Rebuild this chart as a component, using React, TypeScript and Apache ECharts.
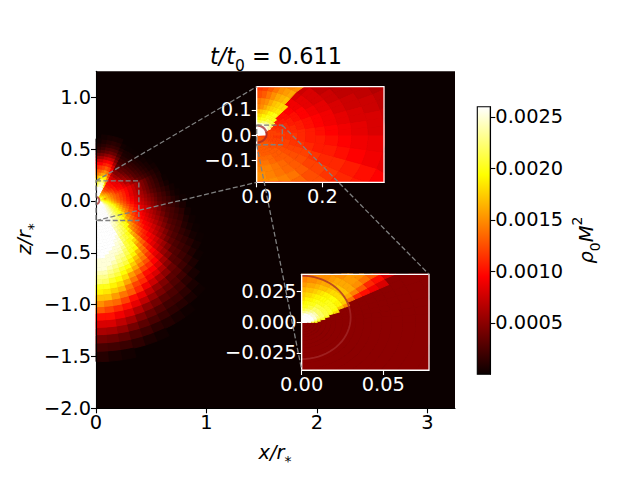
import React, { useEffect, useRef } from "react";
import * as echarts from "echarts";

// Density readings in units of 1e-4 on the colour bar, stored ring by ring (inner to outer).
const VMAX = 26;
const colorStops: [number, number[]][] = [
  [0, [11, 0, 0]],
  [0.365, [255, 0, 0]],
  [0.746, [255, 255, 0]],
  [1, [255, 255, 255]],
];

const mainRadii = [0.005, 0.03, 0.04, 0.05, 0.065, 0.08, 0.1, 0.12, 0.14, 0.165, 0.19, 0.22, 0.25, 0.28, 0.31, 0.35, 0.38, 0.41, 0.44, 0.47, 0.5, 0.53, 0.56, 0.6, 0.64, 0.68, 0.72, 0.76, 0.81, 0.86, 0.91, 0.97, 1.03, 1.09, 1.16, 1.23, 1.3, 1.38, 1.46, 1.55];
const mainStepDeg = 4.5;
// each row starts at -90 deg (bottom) and goes up; a short row means black beyond its end
const mainLower: number[][] = [
  [26,26,26,26,26,26,26,26,26,26,26,26,26,26,26,26,26,26,26,26,26,26,26,26,26,26,26,26,26,26,26,26,26],
  [26,26,26,26,26,26,26,26,26,26,26,26,26,26,26,26,26,26,26,26,26,26,26,26,26,26,26,26,26,26,26,26,26],
  [26,26,26,26,26,26,26,26,26,26,26,26,26,26,26,26,26,26,26,26,26,24,23,22,21,23,22.5,22,21.5,21,20.5,20,19.5],
  [26,26,26,26,26,26,26,26,26,26,26,26,26,26,26,26,26,26,24,23,22,21,20.5,20,19,21,21,20.5,20,19.5,19,18.5,18],
  [26,26,26,26,26,26,26,26,26,26,26,26,26,26,26,25,24,23,22,21.5,21,20,19,18,17,19.5,19.5,19,18.5,18,17.5,17,17],
  [26,26,26,26,26,26,26,26,26,26,26,26,26,25.5,25,24,23,22,21,20.5,19.5,18,17,16,15,18,18,17.5,17,16.5,16,16,15.5],
  [26,26,26,26,26,26,26,26,26,26,26,25.5,25,24.5,24,23.5,22,21,20.5,19.5,18.5,17.9,17.5,17,16.5,16.5,16.5,16,16,15,14.5,14,14],
  [26,26,26,26,26,26,26,26,26,26,25.5,25,24.5,24,23,22,21,20.5,19.5,18.4,17.5,16.8,16.2,15.8,15.3,15.3,15,14.6,14,13.5,13,12.5,12.5],
  [26,26,26,26,26,26,26,26,26,25.5,25,24.5,24,23,22,21,20.5,20,18.3,17.1,16,15.5,14.9,14.8,14.3,14.2,14,13,12.5,12,11.5,11.5,11.5],
  [26,26,26,26,26,26,26,26,26,25,24.5,24,23,22,21,20.5,20,18.6,17.1,15.8,14.7,14.2,13.7,13.7,13.4,13,12.5,12,11.5,11,10.5,10.5,10.5],
  [26,26,26,26,26,26,26,26,25.5,24.5,24,23,22,21,20.5,19.7,18,17.2,16,14.3,13.5,13.1,12.8,12.8,12.5,11.5,11,10.5,10.5,10,10,9.8,9.8],
  [26,26,26,26,26,26,26,25.5,25,24,23.5,22.5,21.5,20.5,19.7,18,16.8,15.7,14.2,13.1,12.4,12.1,11.8,11.8,11.6,11,10,9.7,9.2,9,9,8.8,8.8],
  [26,26,26,26,26,26,26,25,24.5,23.5,23,22,20.5,19.6,18.4,16.5,15.4,14,13.1,12.2,11.4,11.2,10.9,10.9,10.6,10.3,9.5,9.3,9,8.5,8,7.5,7.5],
  [26,26,26,26,26,26,26,24.5,24,23,22,21,20,18,16.8,15,14.2,13.1,12.1,11,10.4,10.2,9.8,9.8,9.7,9.5,8.5,8,7.5,7,6.5,6,6],
  [26,26,26,26,26,26,26,24,23,22,21,20,18,15.9,14.6,13.2,12.6,11.8,10.9,9.9,9.2,8.9,8.4,8.5,8.5,8.5,7.5,6.5,6,5.5,5,4.8,4.5],
  [26,26,26,26,26,26,26,23.5,22.5,21.5,20,19.5,16,14,13.3,12,11.3,10.5,9.7,8.8,8.2,7.9,7.5,7.4,7.4,7.4,6,5.2,4.8,4.3,3.9,3.5,3.3],
  [26,26,26,26,26,26,25,23,22,21,19.5,16,15,13,12,11,10.3,9.6,9,8,7.4,7.2,6.7,6.4,6.4,6.4,4.8,4.2,3.6,3.2,3,3,2.8],
  [26,26,26,26,26,25.5,25,22,21,20,18,15,13.8,12.2,11,10,9.4,8.9,8.3,7.4,6.8,6.3,5.9,5.5,5.5,5.5,3.8,3,2.8,2.6,2.5,2.3,2.1],
  [26,26,26,26,26,25,24.5,22,21,20,16.5,14,12.9,11.4,10.4,9.4,8.7,8,7.5,6.6,6,5.5,5.1,4.5,4.5,4.5,3,2.5,2.2,1.9,1.8,1.7,1.6],
  [26,26,26,26,25,25,24,21,20,19.8,15.5,13,12,10.5,9.4,8.6,8,7.3,6.8,5.9,5.2,4.8,4.1,3.8,3.7,3.7,2.4,2,1.7,1.5,1.4,1.2,1.1],
  [26,26,26,25,25,24.5,23,21,20,18,15,12,11,9.6,9,8,7.2,6.6,6,5.1,4.5,4,3.2,2.8,2.7,2.7,1.9,1.5,1.2,1,0.9,0.7,0.6],
  [26,26,25,25,24.5,24,22,20.5,20,16.5,14,11,10.4,9.2,8.4,7.3,6.5,5.8,5.3,4.3,3.7,3.2,2.7,2.3,2.2,2,1.4,1.1,0.8,0.7,0.6,0.5,0.5],
  [25,25,25,25,23.5,23,21.5,20,19,15,13,10.5,9.5,8.2,7.5,6.5,5.7,5,4.4,3.4,2.8,2.5,2,1.7,1.5,1.3,1,0.6,0.5,0.3,0.2,0.1,0.1],
  [25,25,25,24,23,22,20.5,19,16.5,14,11.5,9.5,8.6,7.2,6.5,5.5,4.8,4,3.4,2.7,2.3,1.9,1.4,1,0.8,0.7,0.5,0.3,0.1],
  [25,25,24,23,22,21,19,17,15,13,10.5,8.5,7.6,6.2,5.5,4.5,3.8,3,2.7,2.2,1.8,1.2,0.9,0.4,0.1],
  [24,24,23,22,20.5,19.5,17.5,15.5,14,11.5,9.5,7.5,6.5,5.2,4.4,3.5,2.8,2.4,2.2,1.7,1.1,0.6,0.3],
  [23,23,22,21,19.5,18,16,14,12.5,10.5,8.5,6.5,5.6,4.1,3.3,2.8,2.4,2,1.7,1.2,0.6,0.2],
  [22.5,22,20.5,19.5,18,15.5,14,12,11,9.5,7.5,5.5,4.4,3.1,2.6,2.2,2,1.5,1.2,0.6,0.2],
  [20,20,19,18,16,14,12,10,9.5,8,6,4.5,3,2.5,2,1.5,1,0.7,0.3],
  [19,18.5,17.5,16.5,14,12,11,9,8,6.4,4.9,3,2.6,2,1.5,1,0.5,0.2],
  [17,17,15.5,14,13,11,9,7.5,6,5,3.6,2.7,2,1.5,1,0.4,0.1],
  [15,14,13.5,12,10,8.7,7,5.5,4.5,3.2,2.9,2,1.4,0.8,0.4,0.1],
  [13,12,11,10,8.5,7,5.5,4.3,3.5,2.7,2,1.2,0.7,0.2],
  [10,10,9,8,6.5,5,4,3,2.5,2,1.2,0.5],
  [8,8,7,6,4.5,3.5,2.7,2,1.8,1.3,0.6],
  [6.2,6,5.3,4.1,3.1,2.4,1.8,1.3,1,0.6,0.2],
  [4.1,3.8,3.3,2.5,2,1.3,0.9,0.5,0.2],
  [2.3,2.1,1.8,1.3,0.7,0.3],
  [1,0.6,0.3],
];
// upper lobe: same rings, columns from 58.5 deg to 90 deg
const mainLobeStartDeg = 58.5;
const mainLobe: number[][] = [
  [26,26,26,26,26,26,26],
  [26,26,26,26,26,26,26],
  [22,26,26,26,26,26,26],
  [20,26,26,26,26,26,26],
  [18,26,26,26,26,26,26],
  [16,26,26,26,26,26,26],
  [14,26,26,26,26,26,26],
  [13,26,26,26,26,26,26],
  [11.5,22,25,25,25,24,22],
  [10.5,19,24,24.5,24,22,21],
  [10,16,22,22.5,22,20,19],
  [9,14.5,19,19.5,19,18,16],
  [8,12.5,16,16.5,16,15,14],
  [6.5,11,14,15,14,13,13],
  [4.8,9.5,12,13,12,11.5,11],
  [3.5,8,10.5,11,10.5,9.5,9.5],
  [3,6,9,9.5,9,8,7.5],
  [2.2,4.5,7,7.5,7,6,5.5],
  [1.7,3.4,5,5.5,5,4.2,3.5],
  [1.1,2.3,3.5,3.8,3.4,2.8,2.2],
  [0.7,1.5,2.5,2.7,2.5,1.8,1.3],
  [0.5,0.8,1.6,1.8,1.6,1.2,0.8],
  [0.1,0.3,1,1.2,1,0.7,0.3],
  [0,0,0.5,0.6,0.5,0.3,0],
];

const insetARadii = [0.004, 0.03, 0.036, 0.043, 0.052, 0.062, 0.074, 0.088, 0.105, 0.125, 0.15, 0.18, 0.21, 0.25, 0.29, 0.34, 0.39, 0.44];
const insetAAngles = [-90, -80, -70, -60, -50, -40, -30, -20, -10, 0, 5, 10, 15, 20, 25, 30, 35, 40, 45, 50, 55, 60, 65, 70, 75, 80, 85, 90];
const insetARows: number[][] = [
  [13,13,13,13,13,13,12.5,12,12, 26,26,26,26,26,26,26,26,26,26,26,26,26,26,26,26,26,26],
  [13,13,13,13,13,12.5,12.5,12,12, 12,12,12,12,12, 26,26,26,26,26,26,26,26,26,26,26,26,26],
  [13,13,13,13,13,12.5,12,12,12, 12,12,12,12,12,12, 25,25,26,26,26,26,26,26,25,25,25,25],
  [13,13,13,13,13,12.5,12,12,12, 12,12,12,12,12,11.5, 24,24,24,25,25,25,25,25,25,24,24,24],
  [13,13,13,13,12.5,12.5,12,12,11.5, 12,12,12,12,11.5,11.5,11.5, 22,23,23,23,23,23,22,22,21,21,21],
  [13,13,13,13,12.5,12.5,12,12,11.5, 12,12,11.5,11.5,11.5,11,11,11, 21,21,21,21,21,20,20,20,19,19],
  [13.5,13,13,13,13,12.5,12,12,11.5, 12,11.5,11.5,11.5,11,11,11,10.5,10.5, 20,20,20,20,20,19,19,18,18],
  [13.5,13.5,13.5,13,13,12.5,12,12,11.5, 11.5,11.5,11,11,11,11,10.5,10.5,10,10, 20,20,19.5,19,18,17.5,17,16.5],
  [14,14,13.5,13,13,12.5,12,11.5,11.5, 11.5,11,11,11,10.5,10.5,10.5,10,10,10, 18.5,18.5,18,17.5,17,16,15,14.5],
  [14.5,14.5,14,13.5,13,12.5,12,11.5,11, 11,11,10.5,10.5,10.5,10,10,10,9.5,9.5, 18,18,17.5,17,16,15,14.5,14],
  [15,14.5,14,13.5,13,12.5,12,11,10.5, 10.5,10.5,10,10,10,9.5,9.5,9.5,9,9,9, 17,16.5,16,15,14,13,12.5],
  [15,15,14.5,14,13,12,11.5,10.5,10.5, 10,10,9.5,9.5,9.5,9,9,8.5,8.5,8.5,8, 16,15.5,15,14,13,12,11.5],
  [15,15,14.5,13.5,12.5,12,11,10.5,10, 9.5,9.5,9,9,9,8.5,8.5,8,8,8,7.5, 15,14.5,14,13,12,11,11],
  [15,15,14.5,13.5,12.5,11.5,11,10,9.5, 9,9,8.5,8.5,8,8,7.5,7.5,7,7],
  [14,14,13.5,13,12,11,10.5,9.5,9, 8.5,8.5,8,8,7.5,7.5,7,7,6.5],
  [12,12,12,12,11.5,10.5,10,9,8.7, 8,8,8,7.5,7.5,7,7,6.5],
  [11,11,11,10.5,10.5,10,9.5,8.5,8, 8,7.5,7.5,7,7,6.5],
];

const insetBRadii = [0.0005, 0.004, 0.006, 0.008, 0.01, 0.012, 0.015, 0.018, 0.021, 0.025, 0.029, 0.033, 0.038, 0.043, 0.049, 0.055, 0.062, 0.07, 0.08, 0.09];
const insetBAngles = [-90, 0, 5, 10, 15, 20, 25, 30, 35, 40, 45, 50, 55, 60, 65, 70, 75, 80, 85, 90];
const insetBRows: number[][] = [
  [5, 26,26,26,26,26,26,26,26,26,26,26,26,26,26,26,26,26,26],
  [5, 25,26,26,26,26,26,26,26,26,26,26,26,26,26,26,26,26,26],
  [5, 21,23,25,26,26,26,26,26,26,26,26,26,26,26,26,26,25,25],
  [5, 20,21,23,24,25,25,25,25,25,25,25,25,24,24,24,23,23,23],
  [5, 5,20,21,22,23,23,24,24,24,24,23,23,23,22,22,22,21,21],
  [5, 5,5,20,21,22,22,22,22,22,22,22,22,21,21,21,20,20,20],
  [5, 5,5,5,20,21,21,21,21,21,21,21,21,20,20,20,20,19.5,19],
  [5, 5,5,5,5,20,20.5,20.5,20.5,20.5,20,20,20,20,19.5,19,19,19,18],
  [5, 5,5,5,5,18,19.5,20,20,20,20,19.5,19.5,19,19,18.5,18,18,17.5],
  [5, 5,5,5,5,5,17,19,19,19.5,19.5,19,19,18.5,18,17.5,17,17,16.5],
  [5, 5,5,5,5,5,15,17.5,18,18,18,18,17.5,17,17,16.5,16,16,15.5],
  [5, 5,5,5,5,5,5,14,16,17,17,17,16.5,16,16,15.5,15,15,14.5],
  [5, 5,5,5,5,5,5,11,14.5,16,16,16,16,15.5,15,15,15,14.5,14],
  [5, 5,5,5,5,5,5,10,13,15,15.5,15.5,15,15],
  [5, 5,5,5,5,5,5,9,11,14,15,15.5,15],
  [5, 5,5,5,5,5,5,8,10,13,15],
  [5, 5,5,5,5,5,5,5,8,10],
  [5, 5,5,5,5,5,5,5],
  [5, 5,5,5,5,5,5,5],
];

const circleRadiusX = 0.03;
const circleRadiusZ = 0.034;
const circleCentreZ = 0.004;

const mainXTicks = [0, 1, 2, 3];
const mainYTicks = [-2, -1.5, -1, -0.5, 0, 0.5, 1];
const insetAXTicks = [0, 0.2];
const insetAYTicks = [-0.1, 0, 0.1];
const insetBXTicks = [0, 0.05];
const insetBYTicks = [-0.025, 0, 0.025];
const barTicks = [0.0005, 0.001, 0.0015, 0.002, 0.0025];

type Box = { left: number; top: number; width: number; height: number; x: number[]; y: number[] };
const mainBox: Box = { left: 96, top: 71.3, width: 359, height: 337, x: [0, 3.25], y: [-2, 1.25] };
const insetABox: Box = { left: 256.7, top: 86.7, width: 127.3, height: 95.6, x: [0, 0.388], y: [-0.189, 0.193] };
const insetBBox: Box = { left: 301.7, top: 274.3, width: 127.3, height: 95.7, x: [0, 0.078], y: [-0.0389, 0.0392] };
const barBox: Box = { left: 477.3, top: 106.7, width: 13, height: 267.6, x: [0, 1], y: [0, 0.0026] };

const FONT = "DejaVu Sans";
const LABEL = 19.4;

function hot(level: number): string {
  const t = Math.max(0, Math.min(1, level / VMAX));
  for (let i = 1; i < colorStops.length; i++) {
    const [t1, c1] = colorStops[i];
    const [t0, c0] = colorStops[i - 1];
    if (t <= t1) {
      const f = (t - t0) / (t1 - t0);
      return `rgb(${c0.map((c, k) => Math.round(c + (c1[k] - c) * f)).join(",")})`;
    }
  }
  return "rgb(255,255,255)";
}

type Cell = number[];
function ringCells(radii: number[], rows: number[][], angles: (col: number) => number): Cell[] {
  const cells: Cell[] = [];
  rows.forEach((row, i) => {
    row.forEach((level, col) => {
      if (level > 0) cells.push([radii[i], radii[i + 1], angles(col), angles(col + 1), level]);
    });
  });
  return cells;
}

function cellSeries(cells: Cell[], axis: number) {
  return {
    type: "custom",
    coordinateSystem: "cartesian2d",
    xAxisIndex: axis,
    yAxisIndex: axis,
    silent: true,
    z: 3,
    data: cells,
    encode: { x: 0, y: 1 },
    renderItem: (params: any, api: any) => {
      const [r0, r1, t0, t1, level] = cells[params.dataIndex];
      const n = Math.max(2, Math.ceil((t1 - t0) / 1.5));
      const pts: number[][] = [];
      const at = (r: number, deg: number) => {
        const a = (deg * Math.PI) / 180;
        return api.coord([r * Math.cos(a), r * Math.sin(a)]);
      };
      for (let k = 0; k <= n; k++) pts.push(at(r1, t0 + ((t1 - t0) * k) / n));
      for (let k = n; k >= 0; k--) pts.push(at(r0, t0 + ((t1 - t0) * k) / n));
      const cs = params.coordSys;
      const clipped = echarts.graphic.clipPointsByRect(pts, { x: cs.x, y: cs.y, width: cs.width, height: cs.height });
      if (!clipped || clipped.length < 3) return null;
      const c = hot(level);
      return { type: "polygon", shape: { points: clipped }, style: { fill: c, stroke: c, lineWidth: 1 }, silent: true };
    },
  };
}

function circleSeries(axis: number, width: number) {
  return {
    type: "custom",
    coordinateSystem: "cartesian2d",
    xAxisIndex: axis,
    yAxisIndex: axis,
    silent: true,
    z: 4,
    data: [[0, circleCentreZ]],
    encode: { x: 0, y: 1 },
    renderItem: (_: any, api: any) => {
      const pts: number[][] = [];
      for (let d = -90; d <= 90; d += 5) {
        const a = (d * Math.PI) / 180;
        pts.push(api.coord([circleRadiusX * Math.cos(a), circleCentreZ + circleRadiusZ * Math.sin(a)]));
      }
      return { type: "polyline", shape: { points: pts }, style: { stroke: "rgba(165,42,42,0.75)", fill: "none", lineWidth: width } };
    },
  };
}

function axis(box: number[], ticks: number[], colour: string, digits: number, position: string) {
  return {
    type: "value",
    min: box[0],
    max: box[1],
    position,
    z: 10,
    splitLine: { show: false },
    axisLine: { show: true, onZero: false, lineStyle: { color: colour, width: 1.1 } },
    axisTick: { show: true, length: 5, lineStyle: { color: colour, width: 1.1 }, customValues: ticks },
    axisLabel: {
      color: colour,
      fontFamily: FONT,
      fontSize: LABEL,
      margin: 5,
      customValues: ticks,
      formatter: (v: number) => v.toFixed(digits).replace("-", "\u2212"),
    },
  };
}

function toPx(b: Box, x: number, y: number): number[] {
  return [
    b.left + ((x - b.x[0]) / (b.x[1] - b.x[0])) * b.width,
    b.top + ((b.y[1] - y) / (b.y[1] - b.y[0])) * b.height,
  ];
}

const DASH = { stroke: "#808080", lineWidth: 1.3, lineDash: [5, 2.4], fill: "none" };

function link(from: number[], to: number[]) {
  return { type: "line", z: 60, silent: true, shape: { x1: from[0], y1: from[1], x2: to[0], y2: to[1] }, style: DASH };
}
function zoomRect(on: Box, target: Box) {
  const a = toPx(on, target.x[0], target.y[1]);
  const b = toPx(on, target.x[1], target.y[0]);
  return { type: "rect", z: 60, silent: true, shape: { x: a[0], y: a[1], width: b[0] - a[0], height: b[1] - a[1] }, style: DASH };
}
function frame(b: Box, colour: string, width: number) {
  return { type: "rect", z: 50, silent: true, shape: { x: b.left, y: b.top, width: b.width, height: b.height }, style: { stroke: colour, fill: "none", lineWidth: width } };
}
function grid(b: Box, bg: string) {
  return { left: b.left, top: b.top, width: b.width, height: b.height, show: true, backgroundColor: bg, borderWidth: 0, containLabel: false };
}

function labelStyle(text: string, size: number, subSize: number) {
  return {
    text,
    fontFamily: FONT,
    fontSize: size,
    fill: "#000",
    align: "center",
    verticalAlign: "middle",
    rich: {
      i: { fontFamily: FONT, fontSize: size, fontStyle: "italic", fill: "#000", lineHeight: size * 1.6 },
      n: { fontFamily: FONT, fontSize: size, fill: "#000", lineHeight: size * 1.6 },
      s: { fontFamily: FONT, fontSize: subSize, fill: "#000", verticalAlign: "bottom", lineHeight: size * 1.42 },
      p: { fontFamily: FONT, fontSize: subSize, fill: "#000", verticalAlign: "top", lineHeight: size * 1.3 },
    },
  };
}

export default function App() {
  const ref = useRef<HTMLDivElement>(null);
  useEffect(() => {
    document.body.style.margin = "0";
    const chart = echarts.init(ref.current!, undefined, { renderer: "svg" });
    const mainCells = [
      ...ringCells(mainRadii, mainLower, (c) => -90 + mainStepDeg * c),
      ...ringCells(mainRadii, mainLobe, (c) => mainLobeStartDeg + mainStepDeg * c),
    ];
    const aCells = ringCells(insetARadii, insetARows, (c) => insetAAngles[c]);
    const bCells = ringCells(insetBRadii, insetBRows, (c) => insetBAngles[c]);
    const stops = colorStops.map(([offset, c]) => ({ offset, color: `rgb(${c.join(",")})` }));

    const aTL = toPx(mainBox, insetABox.x[0], insetABox.y[1]);
    const aBL = toPx(mainBox, insetABox.x[0], insetABox.y[0]);
    const bTR = toPx(insetABox, insetBBox.x[1], insetBBox.y[1]);
    const bBL = toPx(insetABox, insetBBox.x[0], insetBBox.y[0]);

    chart.setOption({
      animation: false,
      backgroundColor: "#fff",
      grid: [grid(mainBox, "rgb(11,0,0)"), grid(insetABox, "rgb(11,0,0)"), grid(insetBBox, "rgb(11,0,0)"), grid(barBox, "#fff")],
      xAxis: [
        { ...axis(mainBox.x, mainXTicks, "#000", 0, "bottom"), gridIndex: 0 },
        { ...axis(insetABox.x, insetAXTicks, "#fff", 1, "bottom"), gridIndex: 1 },
        { ...axis(insetBBox.x, insetBXTicks, "#fff", 2, "bottom"), gridIndex: 2 },
        { type: "value", gridIndex: 3, min: 0, max: 1, show: false },
      ],
      yAxis: [
        { ...axis(mainBox.y, mainYTicks, "#000", 1, "left"), gridIndex: 0 },
        { ...axis(insetABox.y, insetAYTicks, "#fff", 1, "left"), gridIndex: 1 },
        { ...axis(insetBBox.y, insetBYTicks, "#fff", 3, "left"), gridIndex: 2 },
        { ...axis(barBox.y, barTicks, "#000", 4, "right"), gridIndex: 3 },
      ],
      series: [
        cellSeries(mainCells, 0),
        cellSeries(aCells, 1),
        cellSeries(bCells, 2),
        circleSeries(0, 2),
        circleSeries(1, 2.2),
        circleSeries(2, 1.8),
        {
          type: "custom",
          coordinateSystem: "cartesian2d",
          xAxisIndex: 3,
          yAxisIndex: 3,
          silent: true,
          z: 3,
          data: [[0, 0.0026]],
          encode: { x: 0, y: 1 },
          renderItem: (_: any, api: any) => {
            const a = api.coord([0, barBox.y[1]]);
            const b = api.coord([1, barBox.y[0]]);
            return {
              type: "rect",
              shape: { x: a[0], y: a[1], width: b[0] - a[0], height: b[1] - a[1] },
              style: { fill: new echarts.graphic.LinearGradient(0, 1, 0, 0, stops) },
            };
          },
        },
      ],
      graphic: [
        frame(insetABox, "#fff", 1.2),
        frame(insetBBox, "#fff", 1.2),
        frame(barBox, "#000", 1.1),
        zoomRect(mainBox, insetABox),
        zoomRect(insetABox, insetBBox),
        link(aTL, [insetABox.left, insetABox.top]),
        link(aBL, [insetABox.left, insetABox.top + insetABox.height]),
        link(bTR, [insetBBox.left + insetBBox.width, insetBBox.top]),
        link(bBL, [insetBBox.left, insetBBox.top + insetBBox.height]),
        { type: "text", z: 70, x: 276, y: 56, style: labelStyle("{i|t/t}{s|0}{n| = 0.611}", 22.4, 15.5) },
        { type: "text", z: 70, x: 275, y: 452, style: labelStyle("{i|x/r}{s|*}", 19.4, 14) },
        { type: "text", z: 70, x: 24, y: 239, rotation: Math.PI / 2, style: labelStyle("{i|z/r}{s|*}", 19.4, 14) },
        { type: "text", z: 70, x: 586, y: 240, rotation: Math.PI / 2, style: labelStyle("{i|\u03c1}{s|0}{i|M}{p|2}", 19.4, 14) },
      ],
    });
    return () => chart.dispose();
  }, []);
  return <div ref={ref} style={{ width: 640, height: 480 }} />;
}
